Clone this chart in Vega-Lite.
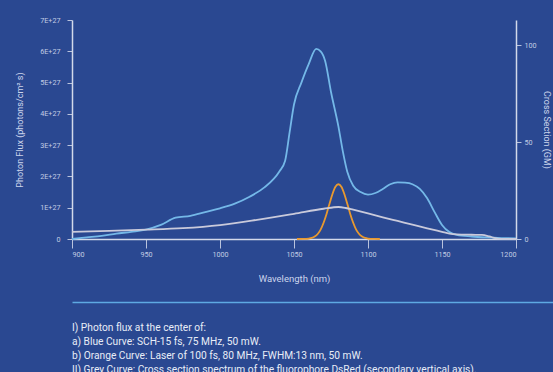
{
  "$schema": "https://vega.github.io/schema/vega-lite/v6.json",
  "background": "#2a4891",
  "autosize": {"type": "none"},
  "padding": {"left": 72, "top": 20, "right": 481, "bottom": 352},
  "config": {
    "view": {"stroke": null},
    "font": "Roboto",
    "axis": {
      "grid": false,
      "domainColor": "#d3d9ea",
      "domainWidth": 1.5,
      "tickColor": "#b9c3dd",
      "tickWidth": 1,
      "labelColor": "#c3cce4",
      "labelFontSize": 7.2,
      "labelFont": "Roboto",
      "titleColor": "#ccd5ec",
      "titleFontSize": 9,
      "titleFontWeight": "normal",
      "titleFont": "Roboto"
    }
  },
  "datasets": {
    "flux": [
      {"wavelength": 900, "flux": 0, "curve": "Blue"},
      {"wavelength": 910, "flux": 0.05, "curve": "Blue"},
      {"wavelength": 920, "flux": 0.1, "curve": "Blue"},
      {"wavelength": 930, "flux": 0.17, "curve": "Blue"},
      {"wavelength": 940, "flux": 0.23, "curve": "Blue"},
      {"wavelength": 950, "flux": 0.3, "curve": "Blue"},
      {"wavelength": 960, "flux": 0.45, "curve": "Blue"},
      {"wavelength": 970, "flux": 0.68, "curve": "Blue"},
      {"wavelength": 980, "flux": 0.74, "curve": "Blue"},
      {"wavelength": 990, "flux": 0.86, "curve": "Blue"},
      {"wavelength": 1000, "flux": 0.98, "curve": "Blue"},
      {"wavelength": 1010, "flux": 1.13, "curve": "Blue"},
      {"wavelength": 1020, "flux": 1.35, "curve": "Blue"},
      {"wavelength": 1030, "flux": 1.65, "curve": "Blue"},
      {"wavelength": 1040, "flux": 2.15, "curve": "Blue"},
      {"wavelength": 1044, "flux": 2.5, "curve": "Blue"},
      {"wavelength": 1047, "flux": 3.4, "curve": "Blue"},
      {"wavelength": 1050, "flux": 4.3, "curve": "Blue"},
      {"wavelength": 1055, "flux": 5.0, "curve": "Blue"},
      {"wavelength": 1060, "flux": 5.6, "curve": "Blue"},
      {"wavelength": 1065, "flux": 6.08, "curve": "Blue"},
      {"wavelength": 1068, "flux": 6.0, "curve": "Blue"},
      {"wavelength": 1071, "flux": 5.7, "curve": "Blue"},
      {"wavelength": 1075, "flux": 4.7, "curve": "Blue"},
      {"wavelength": 1080, "flux": 3.6, "curve": "Blue"},
      {"wavelength": 1083, "flux": 2.8, "curve": "Blue"},
      {"wavelength": 1086, "flux": 2.15, "curve": "Blue"},
      {"wavelength": 1090, "flux": 1.7, "curve": "Blue"},
      {"wavelength": 1095, "flux": 1.5, "curve": "Blue"},
      {"wavelength": 1100, "flux": 1.42, "curve": "Blue"},
      {"wavelength": 1105, "flux": 1.47, "curve": "Blue"},
      {"wavelength": 1110, "flux": 1.6, "curve": "Blue"},
      {"wavelength": 1115, "flux": 1.75, "curve": "Blue"},
      {"wavelength": 1120, "flux": 1.81, "curve": "Blue"},
      {"wavelength": 1125, "flux": 1.8, "curve": "Blue"},
      {"wavelength": 1130, "flux": 1.75, "curve": "Blue"},
      {"wavelength": 1135, "flux": 1.6, "curve": "Blue"},
      {"wavelength": 1140, "flux": 1.3, "curve": "Blue"},
      {"wavelength": 1145, "flux": 0.86, "curve": "Blue"},
      {"wavelength": 1150, "flux": 0.45, "curve": "Blue"},
      {"wavelength": 1155, "flux": 0.22, "curve": "Blue"},
      {"wavelength": 1160, "flux": 0.13, "curve": "Blue"},
      {"wavelength": 1170, "flux": 0.08, "curve": "Blue"},
      {"wavelength": 1180, "flux": 0.05, "curve": "Blue"},
      {"wavelength": 1190, "flux": 0.03, "curve": "Blue"},
      {"wavelength": 1200, "flux": 0.02, "curve": "Blue"},
      {"wavelength": 1052, "flux": 0, "curve": "Orange"},
      {"wavelength": 1056, "flux": 0.002, "curve": "Orange"},
      {"wavelength": 1058, "flux": 0.005, "curve": "Orange"},
      {"wavelength": 1060, "flux": 0.013, "curve": "Orange"},
      {"wavelength": 1062, "flux": 0.033, "curve": "Orange"},
      {"wavelength": 1064, "flux": 0.077, "curve": "Orange"},
      {"wavelength": 1066, "flux": 0.16, "curve": "Orange"},
      {"wavelength": 1068, "flux": 0.3, "curve": "Orange"},
      {"wavelength": 1070, "flux": 0.52, "curve": "Orange"},
      {"wavelength": 1072, "flux": 0.8, "curve": "Orange"},
      {"wavelength": 1074, "flux": 1.13, "curve": "Orange"},
      {"wavelength": 1076, "flux": 1.44, "curve": "Orange"},
      {"wavelength": 1078, "flux": 1.67, "curve": "Orange"},
      {"wavelength": 1080, "flux": 1.75, "curve": "Orange"},
      {"wavelength": 1082, "flux": 1.67, "curve": "Orange"},
      {"wavelength": 1084, "flux": 1.44, "curve": "Orange"},
      {"wavelength": 1086, "flux": 1.13, "curve": "Orange"},
      {"wavelength": 1088, "flux": 0.8, "curve": "Orange"},
      {"wavelength": 1090, "flux": 0.52, "curve": "Orange"},
      {"wavelength": 1092, "flux": 0.3, "curve": "Orange"},
      {"wavelength": 1094, "flux": 0.16, "curve": "Orange"},
      {"wavelength": 1096, "flux": 0.077, "curve": "Orange"},
      {"wavelength": 1098, "flux": 0.033, "curve": "Orange"},
      {"wavelength": 1100, "flux": 0.013, "curve": "Orange"},
      {"wavelength": 1102, "flux": 0.005, "curve": "Orange"},
      {"wavelength": 1104, "flux": 0.002, "curve": "Orange"},
      {"wavelength": 1108, "flux": 0, "curve": "Orange"}
    ],
    "cross": [
      {"wavelength": 900, "gm": 3.7},
      {"wavelength": 925, "gm": 4.2},
      {"wavelength": 950, "gm": 4.8},
      {"wavelength": 975, "gm": 5.6},
      {"wavelength": 1000, "gm": 7.2},
      {"wavelength": 1025, "gm": 9.9},
      {"wavelength": 1050, "gm": 13.0},
      {"wavelength": 1070, "gm": 15.6},
      {"wavelength": 1080, "gm": 16.5},
      {"wavelength": 1085, "gm": 16.0},
      {"wavelength": 1090, "gm": 15.1},
      {"wavelength": 1100, "gm": 13.2},
      {"wavelength": 1110, "gm": 11.2},
      {"wavelength": 1120, "gm": 9.3},
      {"wavelength": 1130, "gm": 7.4},
      {"wavelength": 1140, "gm": 5.5},
      {"wavelength": 1150, "gm": 3.7},
      {"wavelength": 1155, "gm": 2.8},
      {"wavelength": 1160, "gm": 2.4},
      {"wavelength": 1170, "gm": 2.2},
      {"wavelength": 1177, "gm": 2.1},
      {"wavelength": 1182, "gm": 1.3},
      {"wavelength": 1186, "gm": 0.4},
      {"wavelength": 1190, "gm": 0.1},
      {"wavelength": 1200, "gm": 0}
    ],
    "notes": [
      {"line": 1, "text": "I) Photon flux at the center of:"},
      {"line": 2, "text": "a) Blue Curve: SCH-15 fs, 75 MHz, 50 mW."},
      {"line": 3, "text": "b) Orange Curve: Laser of 100 fs, 80 MHz, FWHM:13 nm, 50 mW."},
      {"line": 4, "text": "II) Grey Curve: Cross section spectrum of the fluorophore DsRed (secondary vertical axis)."}
    ]
  },
  "spacing": 75,
  "bounds": "flush",
  "vconcat": [
    {
      "width": 444,
      "height": 219,
      "layer": [
        {
          "data": {"name": "flux"},
          "mark": {"type": "line", "interpolate": "monotone", "strokeWidth": 1.8},
          "encoding": {
            "x": {
              "field": "wavelength", "type": "quantitative",
              "scale": {"domain": [900, 1200], "nice": false, "zero": false},
              "axis": {"title": "Wavelength (nm)", "format": "d", "values": [900, 950, 1000, 1050, 1100, 1150, 1200], "tickSize": 9, "labelPadding": 2, "titlePadding": 16, "titleFontSize": 9.5}
            },
            "y": {
              "field": "flux", "type": "quantitative",
              "scale": {"domain": [0, 7], "nice": false},
              "axis": {"title": "Photon Flux (photons/cm² s)", "values": [0, 1, 2, 3, 4, 5, 6, 7], "labelExpr": "datum.value == 0 ? '0' : datum.value + 'E+27'", "tickSize": 5, "labelPadding": 7, "titlePadding": 15}
            },
            "color": {
              "field": "curve", "type": "nominal",
              "scale": {"domain": ["Blue", "Orange"], "range": ["#74b8e8", "#e8992f"]},
              "legend": null
            },
            "order": {"field": "wavelength", "type": "quantitative"}
          }
        },
        {
          "data": {"name": "cross"},
          "mark": {"type": "line", "interpolate": "monotone", "strokeWidth": 1.8, "color": "#c9cadb"},
          "encoding": {
            "x": {"field": "wavelength", "type": "quantitative"},
            "y": {
              "field": "gm", "type": "quantitative",
              "scale": {"domain": [0, 113], "nice": false},
              "axis": {"orient": "right", "title": "Cross Section (GM)", "values": [0, 50, 100], "tickSize": 5, "labelPadding": 3, "titlePadding": 5}
            }
          }
        }
      ],
      "resolve": {"scale": {"y": "independent"}}
    },
    {
      "width": 481,
      "height": 58,
      "data": {"name": "notes"},
      "mark": {"type": "text", "align": "left", "baseline": "middle", "fontSize": 10.2, "color": "#e8edf7", "font": "Roboto"},
      "encoding": {
        "x": {
          "datum": 0, "type": "quantitative",
          "scale": {"domain": [0, 1]},
          "axis": {"orient": "top", "offset": 12, "ticks": false, "labels": false, "title": null, "domainColor": "#5ea9e2", "domainWidth": 1.3}
        },
        "y": {
          "field": "line", "type": "ordinal",
          "scale": {"type": "point", "padding": 0.5714, "align": 0.875},
          "axis": null
        },
        "text": {"field": "text"}
      }
    }
  ]
}
